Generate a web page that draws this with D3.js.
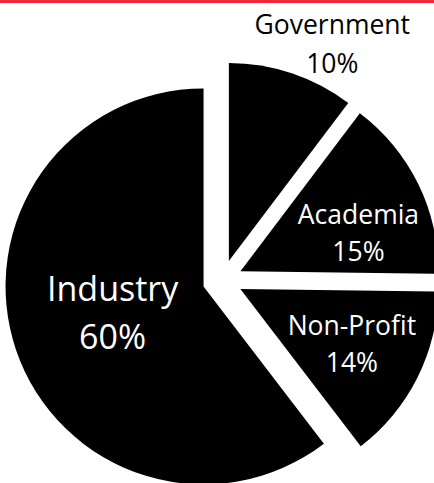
<!DOCTYPE html>
<html>
<head>
<meta charset="utf-8">
<script src="https://cdn.jsdelivr.net/npm/d3@7"></script>
<style>
  html, body { margin: 0; padding: 0; background: #fff; }
  svg { display: block; }
</style>
</head>
<body>
<svg id="chart" width="434" height="483"></svg>
<script>
// data, in drawing order (clockwise from 12 o'clock)
const sectors = ['Government', 'Academia', 'Non-Profit', 'Industry'];
const shares = [10.3, 14.9, 14.4, 60.4];

const width = 434, height = 483;
const svg = d3.select('#chart');

// red rule along the top edge
svg.append('rect')
  .attr('x', 0).attr('y', 0)
  .attr('width', width).attr('height', 3)
  .attr('fill', '#ee2a3a');

// pie geometry
const cx = 222.5, cy = 280, R = 198, explode = 20;

const pie = d3.pie().sort(null).value(d => d.value);
const data = sectors.map((s, i) => ({ name: s, value: shares[i] }));
const arcs = pie(data);
const total = d3.sum(shares);

const arc = d3.arc().innerRadius(0).outerRadius(R);

// offset of every slice along its mid angle
function offset(d, r) {
  const a = (d.startAngle + d.endAngle) / 2;
  return [Math.sin(a) * r, -Math.cos(a) * r];
}

const g = svg.append('g').attr('transform', `translate(${cx},${cy})`);

g.selectAll('path')
  .data(arcs)
  .join('path')
  .attr('transform', d => {
    const [x, y] = offset(d, explode);
    return `translate(${x},${y})`;
  })
  .attr('d', arc)
  .attr('fill', '#000');

// label placement (Excel "best fit" look): radius fraction + small nudge
const labelCfg = {
  'Government': { r: 1.15, dx: 31, dy: 0, size: 26.5, gap: 39, color: '#000' },
  'Academia':   { r: 0.63, dx: 6, dy: 18, size: 26.5, gap: 37, color: '#fff' },
  'Non-Profit': { r: 0.63, dx: 0, dy: 0, size: 26.5, gap: 37, color: '#fff' },
  'Industry':   { r: 0.485, dx: 0, dy: -3, size: 34, gap: 48, color: '#fff' }
};

const labels = g.selectAll('text.lbl')
  .data(arcs)
  .join('text')
  .attr('class', 'lbl')
  .attr('text-anchor', 'middle')
  .attr('font-family', '"Open Sans", "Noto Sans", sans-serif')
  .attr('font-size', d => labelCfg[d.data.name].size)
  .attr('fill', d => labelCfg[d.data.name].color);

labels.each(function(d) {
  const c = labelCfg[d.data.name];
  const [ax, ay] = offset(d, explode);
  const [lx, ly] = offset(d, R * c.r);
  const x = ax + lx + c.dx;
  const y = ay + ly + c.dy + c.size * 0.31;
  const t = d3.select(this);
  t.append('tspan').attr('x', x).attr('y', y - c.gap / 2).text(d.data.name);
  t.append('tspan').attr('x', x).attr('y', y + c.gap / 2)
    .text(Math.round(d.data.value / total * 100) + '%');
});
</script>
</body>
</html>
